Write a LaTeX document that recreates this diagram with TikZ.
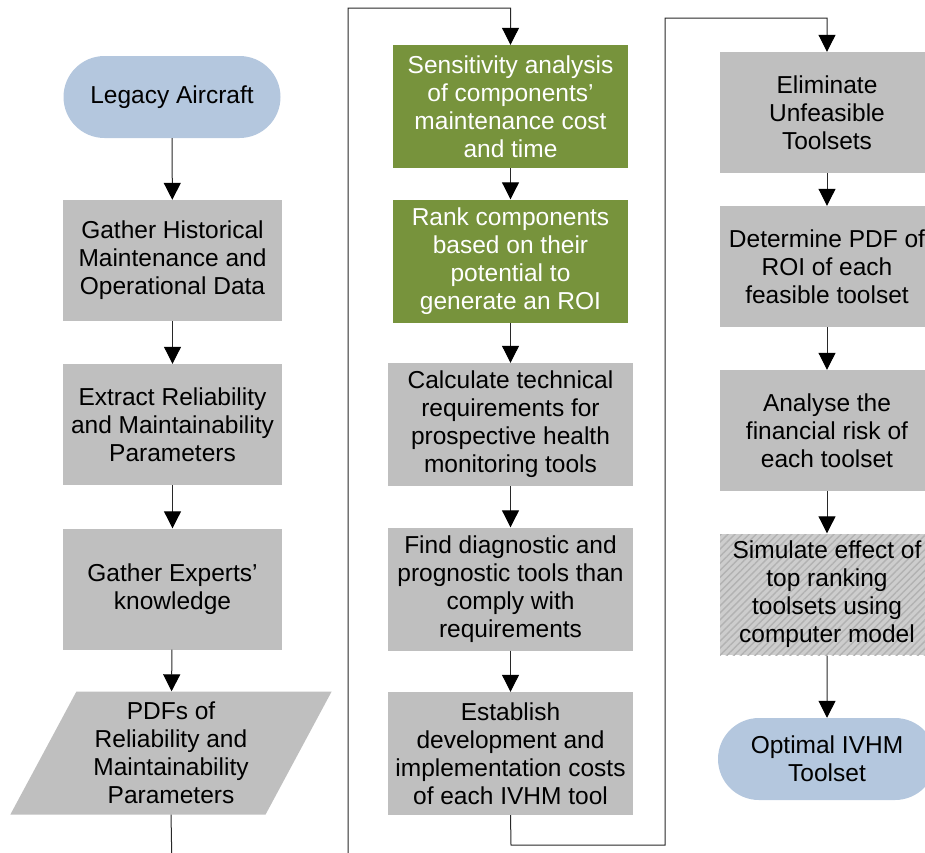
\documentclass[tikz,border=0pt]{standalone}
\usepackage{fontspec}
\setmainfont{Liberation Sans}
\usetikzlibrary{shapes, arrows.meta, positioning, patterns.meta}
\definecolor{boxgray}{RGB}{191, 191, 191}
\definecolor{hatchgray}{RGB}{205, 205, 205}
\definecolor{stripegray}{RGB}{178, 178, 178}
\definecolor{olivegreen}{RGB}{119, 147, 60}
\definecolor{paleblue}{RGB}{180, 199, 222}
\definecolor{linegray}{RGB}{40, 40, 40}
\tikzset{
  flowline/.style={-{Triangle[length=17pt, width=17pt, black]}, line width=1pt, linegray},
  procbox/.style={rectangle, fill=boxgray, minimum width=219pt, minimum height=121pt, inner sep=0pt, align=center, font=\fontsize{24.5}{28}\selectfont},
  greenbox/.style={procbox, fill=olivegreen, text=white, minimum width=235pt, minimum height=123pt},
  widebox/.style={procbox, minimum width=245pt, minimum height=123pt},
  rightbox/.style={procbox, minimum width=214pt},
  hatchbox/.style={rightbox, fill=none, preaction={fill=hatchgray}, pattern={Lines[angle=45, distance=5pt, line width=1.4pt]}, pattern color=stripegray},
  termbox/.style={rounded rectangle, fill=paleblue, minimum width=217pt, minimum height=82pt, inner sep=0pt, align=center, font=\fontsize{24.5}{28}\selectfont},
  databox/.style={trapezium, trapezium left angle=62, trapezium right angle=118, trapezium stretches=true, fill=boxgray, minimum width=322pt, minimum height=123pt, inner sep=0pt, align=center, font=\fontsize{24.5}{28}\selectfont}
}
\begin{document}
\begin{tikzpicture}[x=1pt, y=-1pt]
    \useasboundingbox (0, 0) rectangle (925, 852);

    % Column 1: data gathering
    \node[termbox] (legacy) at (172, 97) {Legacy Aircraft};
    \node[procbox] (gather) at (172.5, 260.5) {Gather Historical\\Maintenance and\\Operational Data};
    \node[procbox] (extract) at (172.5, 424.5) {Extract Reliability\\and Maintainability\\Parameters};
    \node[procbox] (experts) at (172.5, 589) {Gather Experts'\\knowledge};
    \node[databox] (pdfs) at (171, 753) {PDFs of\\Reliability and\\Maintainability\\Parameters};

    % Column 2: component ranking and tools
    \node[greenbox] (sens) at (510.5, 106.5) {Sensitivity analysis\\of components'\\maintenance cost\\and time};
    \node[greenbox] (rank) at (510.5, 261) {Rank components\\based on their\\potential to\\generate an ROI};
    \node[widebox] (calc) at (510.5, 424.5) {Calculate technical\\requirements for\\prospective health\\monitoring tools};
    \node[widebox] (find) at (510.5, 589) {Find diagnostic and\\prognostic tools than\\comply with\\requirements};
    \node[widebox] (estab) at (510.5, 753.5) {Establish\\development and\\implementation costs\\of each IVHM tool};

    % Column 3: toolset selection (cut at right edge)
    \node[rightbox] (elim) at (827, 112.5) {Eliminate\\Unfeasible\\Toolsets};
    \node[rightbox] (determ) at (827, 266.5) {Determine PDF of\\ROI of each\\feasible toolset};
    \node[rightbox] (analyse) at (827, 430.5) {Analyse the\\financial risk of\\each toolset};
    \node[hatchbox] (simul) at (827, 594.5) {Simulate effect of\\top ranking\\toolsets using\\computer model};
    \node[termbox, minimum width=218pt] (optimal) at (827, 759) {Optimal IVHM\\Toolset};

    % turning points of the long connectors
    \coordinate (lowA) at (172, 870);
    \coordinate (topA) at (348, 8);
    \coordinate (lowB) at (511, 845);
    \coordinate (topB) at (665, 18);

    % arrows
    \draw[flowline] (legacy) -- (gather);
    \draw[flowline] (gather) -- (extract);
    \draw[flowline] (extract) -- (experts);
    \draw[flowline] (experts) -- (pdfs);
    \draw[flowline] (pdfs.south) -- (lowA) -| (topA) -| (sens.north);
    \draw[flowline] (sens) -- (rank);
    \draw[flowline] (rank) -- (calc);
    \draw[flowline] (calc) -- (find);
    \draw[flowline] (find) -- (estab);
    \draw[flowline] (estab.south) -- (lowB) -| (topB) -| (elim.north);
    \draw[flowline] (elim) -- (determ);
    \draw[flowline] (determ) -- (analyse);
    \draw[flowline] (analyse) -- (simul);
    \draw[flowline] (simul) -- (optimal);
\end{tikzpicture}
\end{document}
